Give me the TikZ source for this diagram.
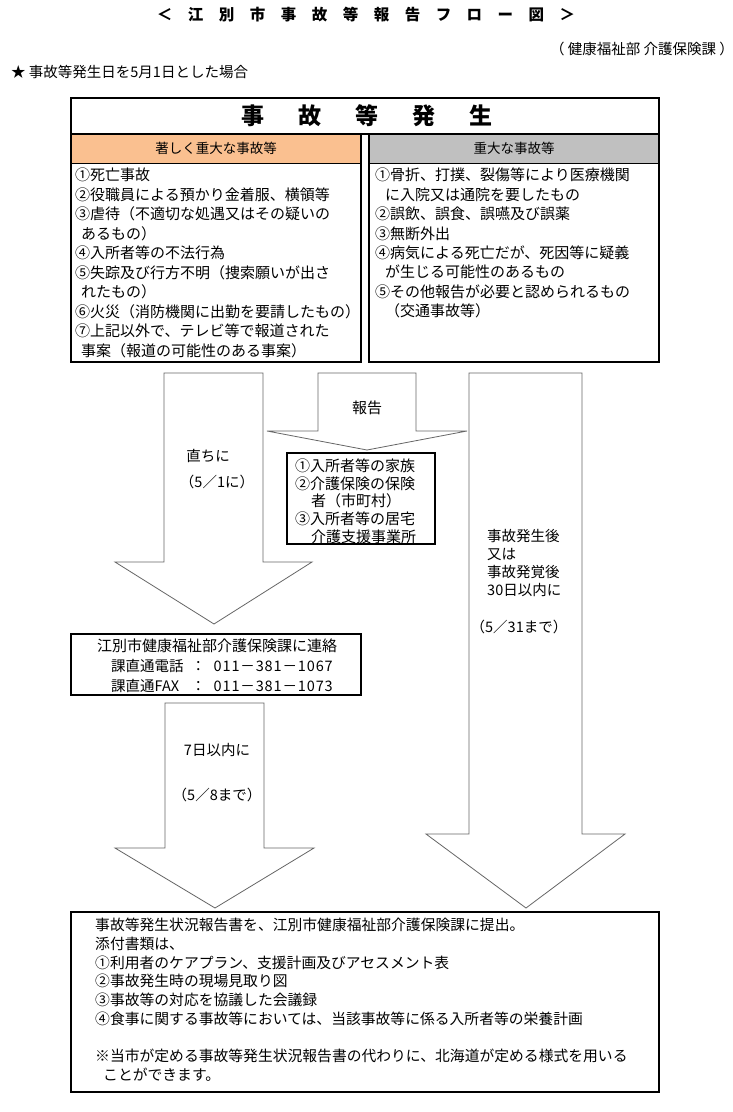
\documentclass[tikz,border=0pt]{standalone}
\usepackage{fontspec}
\setmainfont{Noto Sans CJK JP}
\definecolor{hdrorange}{HTML}{FAC090}
\definecolor{hdrgray}{HTML}{C0C0C0}
\newcommand{\blockarrow}[7]{% left, right, top, head, wing, tip x, tip y
  \draw[arrowline] (#1,#3) -- (#1,#4) -- (#1-#5,#4) -- (#6,#7) -- (#2+#5,#4) -- (#2,#4) -- (#2,#3) -- cycle;}
\newcommand{\phonenum}[1]{{\addfontfeature{LetterSpace=6}#1}}
\tikzset{
  box/.style={draw,line width=1.5pt},
  sepline/.style={draw,line width=0.8pt},
  arrowline/.style={draw=black!60,line width=0.8pt},
  bodytext/.style={inner sep=0pt,anchor=north west,align=left,font=\fontsize{15}{19.5}\selectfont},
  lbl/.style={inner sep=0pt,font=\fontsize{14.5}{18}\selectfont},
}
\begin{document}
\begin{tikzpicture}[x=1pt,y=-1pt]
\fill[white] (0,0) rectangle (733,1112);
\useasboundingbox (0,0) rectangle (733,1112);

% title and notes
\node[inner sep=0pt,font=\fontsize{15.5}{18}\selectfont\bfseries] (title) at (366,15) {＜　江　別　市　事　故　等　報　告　フ　ロ　ー　図　＞};
\node[inner sep=0pt,anchor=east,font=\fontsize{14.5}{17}\selectfont] (dept) at (734,49) {（ 健康福祉部 介護保険課 ）};
\node[inner sep=0pt,anchor=west,font=\fontsize{14.5}{17}\selectfont] (note) at (11,72) {★ 事故等発生日を5月1日とした場合};

% accident box
\fill[hdrorange] (71,134) rectangle (361,163);
\fill[hdrgray] (369,134) rectangle (659,163);
\draw[sepline] (71,163) -- (361,163);
\draw[sepline] (369,163) -- (659,163);
\draw[box] (71,98) rectangle (659,134);
\draw[box] (71,134) rectangle (361,362);
\draw[box] (369,134) rectangle (659,362);
\node[inner sep=0pt,font=\fontsize{23}{26}\selectfont\bfseries] (occur) at (367,116) {事\hspace{34pt}故\hspace{34pt}等\hspace{34pt}発\hspace{34pt}生};
\node[inner sep=0pt,font=\fontsize{13.5}{16}\selectfont] (hdrL) at (216,148) {著しく重大な事故等};
\node[inner sep=0pt,font=\fontsize{13.5}{16}\selectfont] (hdrR) at (514,148) {重大な事故等};
\node[bodytext] (listL) at (75,168) {①死亡事故\\
②役職員による預かり金着服、横領等\\
③虐待（不適切な処遇又はその疑いの\\
\hspace{6pt}あるもの）\\
④入所者等の不法行為\\
⑤失踪及び行方不明（捜索願いが出さ\\
\hspace{6pt}れたもの）\\
⑥火災（消防機関に出勤を要請したもの）\\
⑦上記以外で、テレビ等で報道された\\
\hspace{6pt}事案（報道の可能性のある事案）};
\node[bodytext,font=\fontsize{15}{19.4}\selectfont] (listR) at (375,168) {①骨折、打撲、裂傷等により医療機関\\
\hspace{10pt}に入院又は通院を要したもの\\
②誤飲、誤食、誤嚥及び誤薬\\
③無断外出\\
④病気による死亡だが、死因等に疑義\\
\hspace{10pt}が生じる可能性のあるもの\\
⑤その他報告が必要と認められるもの\\
\hspace{10pt}（交通事故等）};

% arrows
\blockarrow{164}{263}{373}{562}{49}{214}{624}
\blockarrow{318}{416}{373}{431}{51}{367}{450}
\blockarrow{469}{582}{373}{834}{43}{526}{908}
\blockarrow{165}{264}{703}{848}{50}{215}{908}

\node[lbl] (soon) at (208,456) {直ちに};
\node[lbl] (soondate) at (217,482) {（5／1に）};
\node[lbl,font=\fontsize{15}{18}\selectfont] (report) at (367,408) {報告};
\node[bodytext,font=\fontsize{14.5}{18.2}\selectfont] (within30) at (487,529) {事故発生後\\又は\\事故発覚後\\30日以内に};
\node[lbl] (date30) at (519,627) {（5／31まで）};
\node[lbl] (within7) at (217,750) {7日以内に};
\node[lbl] (date7) at (217,795) {（5／8まで）};

% families box
\draw[box] (287,453) rectangle (435,544);
\node[bodytext,font=\fontsize{15}{17.75}\selectfont] (family) at (295,458.5) {①入所者等の家族\\
②介護保険の保険\\
\hspace{16pt}者（市町村）\\
③入所者等の居宅\\
\hspace{16pt}介護支援事業所};

% contact box
\draw[box] (71,634) rectangle (361,695);
\node[lbl,font=\fontsize{15}{18}\selectfont] (contact) at (217,646) {江別市健康福祉部介護保険課に連絡};
\node[lbl,anchor=west] (tel) at (111,666) {\makebox[80pt][l]{課直通電話}：\hspace{8pt}\phonenum{011－381－1067}};
\node[lbl,anchor=west] (fax) at (111,686) {\makebox[80pt][l]{課直通FAX}：\hspace{8pt}\phonenum{011－381－1073}};

% submission box
\draw[box] (71,912) rectangle (659,1092);
\node[bodytext,font=\fontsize{14.8}{18.75}\selectfont] (submit) at (95,918) {事故等発生状況報告書を、江別市健康福祉部介護保険課に提出。\\
添付書類は、\\
①利用者のケアプラン、支援計画及びアセスメント表\\
②事故発生時の現場見取り図\\
③事故等の対応を協議した会議録\\
④食事に関する事故等においては、当該事故等に係る入所者等の栄養計画\\
\mbox{}\\
※当市が定める事故等発生状況報告書の代わりに、北海道が定める様式を用いる\\
\hspace{8pt}ことができます。};
\end{tikzpicture}
\end{document}
